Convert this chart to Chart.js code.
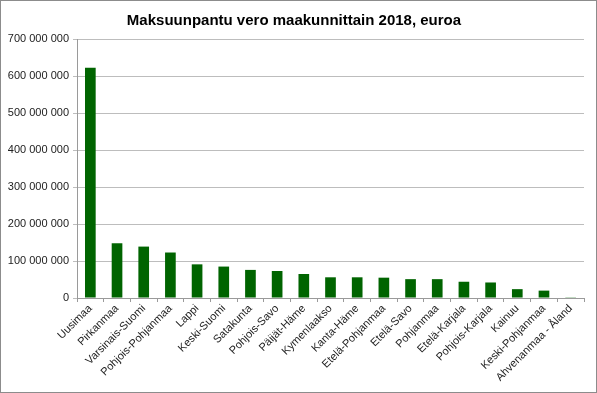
<!DOCTYPE html>
<html>
<head>
<meta charset="utf-8">
<title>Maksuunpantu vero maakunnittain 2018</title>
<script src="https://cdn.jsdelivr.net/npm/chart.js@4"></script>
<style>
    html, body { margin: 0; padding: 0; background: #fff; }
    #wrap { position: relative; width: 597px; height: 393px; }
</style>
</head>
<body>
<div id="wrap"><canvas id="taxChart" width="597" height="393"></canvas></div>
<script>
// Data
const regions = ['Uusimaa', 'Pirkanmaa', 'Varsinais-Suomi', 'Pohjois-Pohjanmaa', 'Lappi', 'Keski-Suomi',
    'Satakunta', 'Pohjois-Savo', 'Päijät-Häme', 'Kymenlaakso', 'Kanta-Häme', 'Etelä-Pohjanmaa',
    'Etelä-Savo', 'Pohjanmaa', 'Etelä-Karjala', 'Pohjois-Karjala', 'Kainuu', 'Keski-Pohjanmaa',
    'Ahvenanmaa - Åland'];
const taxValues = [622000000, 148000000, 139000000, 123000000, 91000000, 85000000,
    76000000, 73000000, 65000000, 56000000, 56000000, 55000000,
    51000000, 51000000, 44000000, 42000000, 24000000, 20000000, 2000000];
const yTicks = [0, 100000000, 200000000, 300000000, 400000000, 500000000, 600000000, 700000000];

// Format with space as thousands separator
function formatEuro(value) {
    return String(value).replace(/\B(?=(\d{3})+(?!\d))/g, ' ');
}

// Outer frame of the chart
const framePlugin = {
    id: 'frame',
    afterDraw: function(chart) {
        const ctx = chart.ctx;
        ctx.save();
        ctx.strokeStyle = '#8c8c8c';
        ctx.lineWidth = 1;
        ctx.strokeRect(0.5, 0.5, chart.width - 1, chart.height - 1);
        ctx.restore();
    }
};

document.addEventListener('DOMContentLoaded', function() {
    initTaxChart();
});

function initTaxChart() {
    const ctx = document.getElementById('taxChart');
    if (!ctx) return;

    new Chart(ctx, {
        type: 'bar',
        data: {
            labels: regions,
            datasets: [{
                data: taxValues,
                backgroundColor: '#006400',
                borderWidth: 0,
                categoryPercentage: 1,
                barPercentage: 0.4
            }]
        },
        plugins: [framePlugin],
        options: {
            responsive: false,
            animation: false,
            layout: {
                padding: { top: 8, right: 13, bottom: 9, left: 4 }
            },
            plugins: {
                legend: { display: false },
                tooltip: { enabled: false },
                title: {
                    display: true,
                    text: 'Maksuunpantu vero maakunnittain 2018, euroa',
                    color: '#000',
                    font: { family: 'Arial, "Liberation Sans", sans-serif', size: 15, weight: 'bold' },
                    padding: { top: 4, bottom: 9 }
                }
            },
            scales: {
                y: {
                    min: 0,
                    max: 700000000,
                    afterBuildTicks: function(axis) {
                        axis.ticks = yTicks.map(function(v) { return { value: v }; });
                    },
                    afterFit: function(axis) {
                        axis.width = 73;
                    },
                    ticks: {
                        color: '#222',
                        font: { family: 'Arial, "Liberation Sans", sans-serif', size: 11 },
                        padding: 4,
                        callback: function(value) {
                            return formatEuro(value);
                        }
                    },
                    grid: {
                        color: '#bdbdbd',
                        tickLength: 4
                    },
                    border: { color: '#9a9a9a' }
                },
                x: {
                    ticks: {
                        color: '#222',
                        font: { family: 'Arial, "Liberation Sans", sans-serif', size: 11 },
                        minRotation: 45,
                        maxRotation: 45,
                        autoSkip: false,
                        padding: 0
                    },
                    grid: {
                        drawOnChartArea: false,
                        color: '#9a9a9a',
                        tickLength: 4,
                        offset: true
                    },
                    border: { color: '#9a9a9a' }
                }
            }
        }
    });
}
</script>
</body>
</html>
